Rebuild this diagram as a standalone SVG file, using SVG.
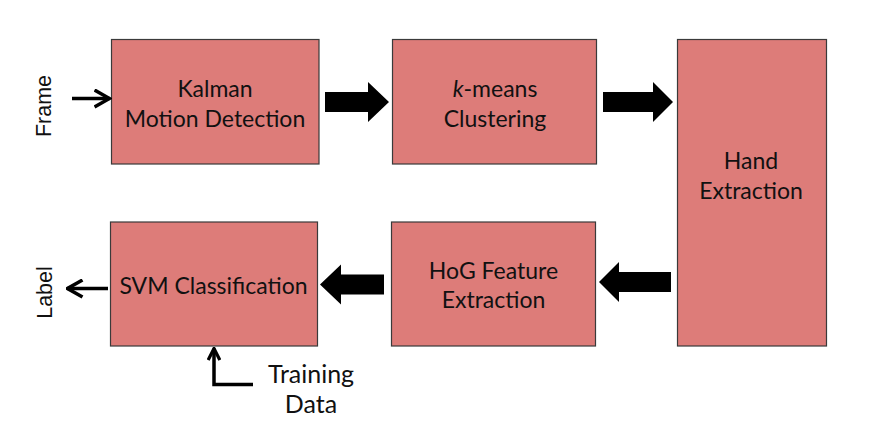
<svg xmlns="http://www.w3.org/2000/svg" width="869" height="442" viewBox="0 0 869 442">
<style>
  .box { fill: #dd7c79; stroke: #3a3a3a; stroke-width: 1.2; }
  .t { font-family: Lato, "Open Sans", sans-serif; font-size: 23px; fill: #111; text-anchor: middle; }
  .tl { font-family: Lato, "Open Sans", sans-serif; font-size: 25px; fill: #111; text-anchor: middle; }
  .side { font-family: "Liberation Sans", Arial, sans-serif; font-size: 21.5px; fill: #111; text-anchor: middle; }
  .big { fill: #000; }
  .thin { fill: none; stroke: #000; stroke-width: 3.5; }
</style>
<defs>
  <marker id="chev" markerUnits="userSpaceOnUse" viewBox="0 0 18 20" refX="16" refY="10" markerWidth="18" markerHeight="20" orient="auto">
    <path d="M1,1.5 L16,10 L1,18.5" fill="none" stroke="#000" stroke-width="3.5"/>
  </marker>
  <marker id="chevS" markerUnits="userSpaceOnUse" viewBox="0 0 14 14" refX="12.5" refY="7" markerWidth="14" markerHeight="14" orient="auto">
    <path d="M1,1.2 L12.5,7 L1,12.8" fill="none" stroke="#000" stroke-width="3.2"/>
  </marker>
</defs>
<rect width="869" height="442" fill="#fff"/>

<g id="node-kalman">
  <rect class="box" x="111.5" y="39.5" width="207.5" height="124.5"/>
  <text class="t" x="215" y="96.5">Kalman</text>
  <text class="t" x="215" y="126.5">Motion Detection</text>
</g>
<g id="node-kmeans">
  <rect class="box" x="392.5" y="39.5" width="204" height="124.5"/>
  <text class="t" x="495" y="96.5"><tspan font-style="italic">k</tspan>-means</text>
  <text class="t" x="495" y="126.5">Clustering</text>
</g>
<g id="node-hand">
  <rect class="box" x="677.5" y="39.5" width="149" height="306.5"/>
  <text class="t" x="751" y="169">Hand</text>
  <text class="t" x="751" y="199">Extraction</text>
</g>
<g id="node-hog">
  <rect class="box" x="391.5" y="222" width="204" height="124"/>
  <text class="t" x="493.5" y="278.5">HoG Feature</text>
  <text class="t" x="493.5" y="308">Extraction</text>
</g>
<g id="node-svm">
  <rect class="box" x="110.5" y="222" width="207" height="124"/>
  <text class="t" x="213.5" y="294">SVM Classification</text>
</g>
<g id="label-frame">
  <text class="side" transform="translate(50.5,106) rotate(-90)">Frame</text>
</g>
<g id="label-label">
  <text class="side" transform="translate(51.5,292.5) rotate(-90)">Label</text>
</g>
<g id="label-training">
  <text class="tl" x="311" y="383">Training</text>
  <text class="tl" x="311" y="413">Data</text>
</g>

<g id="connectors">
  <polygon class="big" points="325,92 368,92 368,82 389,102 368,122 368,112 325,112"/>
  <polygon class="big" points="603,92 653,92 653,82 673,102 653,122 653,112 603,112"/>
  <polygon class="big" points="671,272 619,272 619,262 599,282 619,302 619,292 671,292"/>
  <polygon class="big" points="384,274.5 341,274.5 341,264.5 320,284.5 341,304.5 341,294.5 384,294.5"/>
  <line class="thin" x1="72" y1="98.5" x2="109.5" y2="98.5" marker-end="url(#chev)"/>
  <line class="thin" x1="108" y1="288.5" x2="67.5" y2="288.5" marker-end="url(#chev)"/>
  <path class="thin" d="M253,384.5 L214,384.5 L214,348.5" marker-end="url(#chevS)"/>
</g>
</svg>
